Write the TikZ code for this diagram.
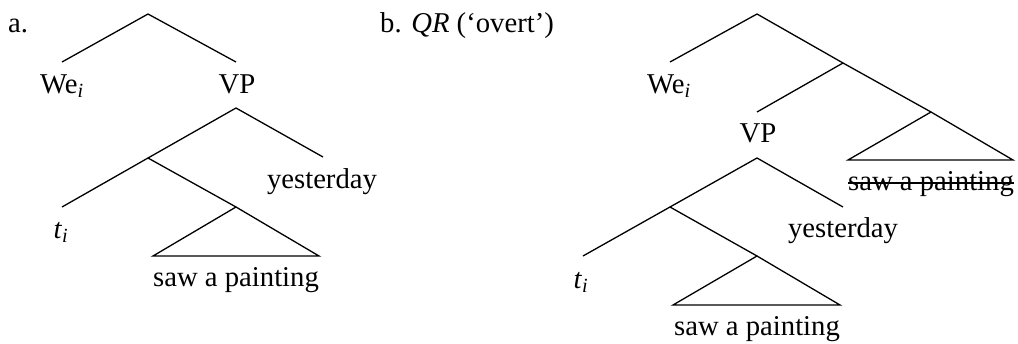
\documentclass[tikz,border=0pt]{standalone}
\usepackage{fontspec}
\setmainfont{Liberation Serif}
\begin{document}
\begin{tikzpicture}[x=1pt,y=-1pt,
  br/.style={line width=1.3pt},
  strike/.style={line width=1.3pt},
  lab/.style={anchor=base, inner sep=0pt, font=\fontsize{28.7}{34}\selectfont}]
\useasboundingbox (0,0) rectangle (1018,343);
% labels
\node[lab, anchor=base west] (la) at (8,32) {a.};
\node[lab, anchor=base west] (lb) at (380,32) {b. \textit{QR} (‘overt’)};
% ---- panel a
\coordinate (aR) at (148,14);
\coordinate (aWe) at (62,62);
\coordinate (aVP) at (236,62);
\node[lab] (aWeL) at (62,93) {We\textsubscript{\textit{i}}};
\node[lab] (aVPL) at (237,93) {VP};
\coordinate (aVPb) at (236,108);
\coordinate (aN1) at (148,158);
\coordinate (aYe) at (323,157);
\node[lab] (aYeL) at (322,188) {yesterday};
\coordinate (aT) at (62,207);
\node[lab] (aTL) at (61,238) {\textit{t}\textsubscript{\textit{i}}};
\coordinate (aN2) at (236,207);
\coordinate (aTl) at (153,256);
\coordinate (aTr) at (319,256);
\node[lab] (aSL) at (236,286) {saw a painting};
\draw[br] (aWe) -- (aR) -- (aVP);
\draw[br] (aN1) -- (aVPb) -- (aYe);
\draw[br] (aT) -- (aN1) -- (aN2);
\draw[br] (aN2) -- (aTl) -- (aTr) -- cycle;
% ---- panel b
\coordinate (bR) at (757,14);
\coordinate (bWe) at (670,62);
\coordinate (bN1) at (843,63);
\node[lab] (bWeL) at (669,93) {We\textsubscript{\textit{i}}};
\coordinate (bVP) at (757,112);
\coordinate (bN2) at (931,112);
\coordinate (bTl) at (848,160);
\coordinate (bTr) at (1013,160);
\node[lab] (bSL) at (931,190) {saw a painting};
\draw[strike] ([yshift=7pt]bSL.base west) -- ([yshift=7pt]bSL.base east);
\node[lab] (bVPL) at (758,142) {VP};
\coordinate (bVPb) at (757,158);
\coordinate (bN3) at (670,207);
\coordinate (bYe) at (843,207);
\node[lab] (bYeL) at (843,237) {yesterday};
\coordinate (bT) at (583,256);
\node[lab] (bTL) at (581,288) {\textit{t}\textsubscript{\textit{i}}};
\coordinate (bN4) at (757,256);
\coordinate (bTl2) at (673,305);
\coordinate (bTr2) at (840,305);
\node[lab] (bS2) at (757,335) {saw a painting};
\draw[br] (bWe) -- (bR) -- (bN1) -- (bN2);
\draw[br] (bN1) -- (bVP);
\draw[br] (bN2) -- (bTl) -- (bTr) -- cycle;
\draw[br] (bN3) -- (bVPb) -- (bYe);
\draw[br] (bT) -- (bN3) -- (bN4);
\draw[br] (bN4) -- (bTl2) -- (bTr2) -- cycle;
\end{tikzpicture}
\end{document}
